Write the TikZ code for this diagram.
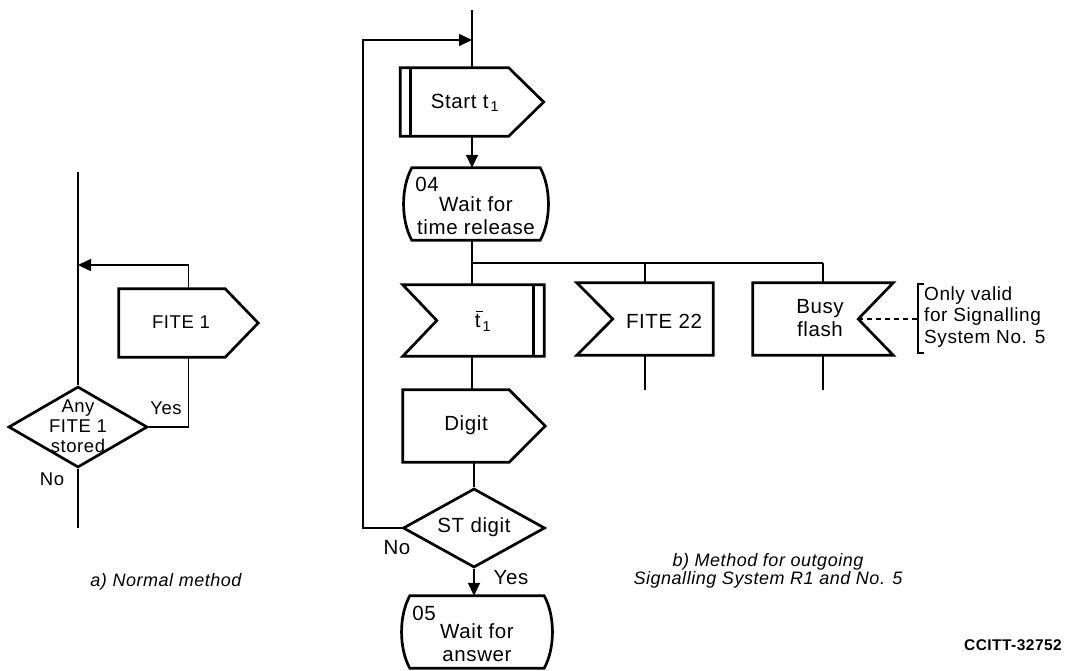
\documentclass[tikz,border=0pt]{standalone}
\usepackage{fontspec}
\setmainfont{Liberation Sans}[LetterSpace=3]
\usetikzlibrary{arrows.meta,shapes.geometric}
\newcommand{\tbarsym}{\makebox[0pt][l]{\hspace{1.5pt}\raisebox{15.5pt}{\rule{6.5pt}{1.4pt}}}t}
\begin{document}
\begin{tikzpicture}[x=1pt,y=-1pt,
  outl/.style={line width=2.7pt, line join=miter},
  conn/.style={line width=1.6pt},
  arr/.style={conn,-{Triangle[length=13pt,width=12pt]}},
  shp/.style={rectangle, draw=none, inner sep=0pt},
  rt/.style={font=\fontsize{20.5}{23}\selectfont, align=center, inner sep=0pt},
  lt/.style={font=\fontsize{18.5}{20}\selectfont, align=center, inner sep=0pt},
  nt/.style={font=\fontsize{19}{21.5}\selectfont, align=left, inner sep=0pt},
  captxt/.style={font=\fontsize{18}{17.5}\selectfont\itshape, align=center, inner sep=0pt},
]
\useasboundingbox (0,0) rectangle (1067,670);

% ---------------- a) Normal method ----------------
\coordinate (Ltop) at (78,172);
\coordinate (Lbot) at (78,528);
\coordinate (Ljoin) at (78,265);
\node[diamond, draw, outl, inner sep=0pt, minimum width=139pt, minimum height=81pt] (any) at (78,427) {};
\node[lt] (anyt) at (78,426) {Any\\FITE 1\\stored};
\node[shp, minimum width=139pt, minimum height=68pt] (fite1) at (188.5,323) {};
\node[lt] (fite1t) at (181,322) {FITE 1};
\draw[outl] (fite1.north west) -- ([xshift=-33pt]fite1.north east) -- (fite1.east)
  -- ([xshift=-33pt]fite1.south east) -- (fite1.south west) -- cycle;
\draw[conn] (Ltop) -- (any.north);
\draw[conn] (any.south) -- (Lbot);
\draw[arr] (fite1.north) -- (fite1.north |- Ljoin) -- (Ljoin);
\draw[conn] (any.east) -| (fite1.south);
\node[lt] (yesL) at (166,408) {Yes};
\node[lt] (noL) at (52,479) {No};
\node[captxt] (capa) at (166,582) {a) Normal method};

% ---------------- b) ----------------
\coordinate (Rtop) at (472,10);
\coordinate (Rmerge) at (472,40);
\coordinate (loopL) at (363,40);
\node[shp, minimum width=143pt, minimum height=68pt] (start) at (472,102) {};
\draw[outl] (start.north west) -- ([xshift=-35pt]start.north east) -- (start.east)
  -- ([xshift=-35pt]start.south east) -- (start.south west) -- cycle;
\draw[outl] ([xshift=10pt]start.north west) -- ([xshift=10pt]start.south west);
\node[rt] (startt) at (465,103) {Start t\kern2pt\textsubscript{1}};

\node[shp, minimum width=128pt, minimum height=72pt] (w04) at (476,204) {};
\draw[outl] (w04.north) -- (w04.north east) .. controls +(11,20) and +(11,-20) .. (w04.south east)
  -- (w04.south west) .. controls +(-11,-20) and +(-11,20) .. (w04.north west) -- cycle;
\node[rt] (w04n) at (427,184) {04};
\node[rt] (w04t) at (476,216) {Wait for\\time release};

\coordinate (br) at (472,263);
\coordinate (brR) at (823,263);

\node[shp, minimum width=141pt, minimum height=71pt] (tbar) at (473.5,320.5) {};
\draw[outl] (tbar.north west) -- (tbar.north east) -- (tbar.south east) -- (tbar.south west)
  -- ([xshift=34pt]tbar.west) -- cycle;
\draw[outl] ([xshift=-11pt]tbar.north east) -- ([xshift=-11pt]tbar.south east);
\node[rt] (tbart) at (483,321) {\tbarsym\kern2pt\textsubscript{1}};

\node[shp, minimum width=136pt, minimum height=72pt] (fite22) at (645,319) {};
\draw[outl] (fite22.north west) -- (fite22.north east) -- (fite22.south east) -- (fite22.south west)
  -- ([xshift=36pt]fite22.west) -- cycle;
\node[rt] (fite22t) at (664,321) {FITE 22};

\node[shp, minimum width=140pt, minimum height=72pt] (busy) at (823,319) {};
\draw[outl] (busy.north west) -- (busy.north east) -- ([xshift=-35pt]busy.east)
  -- (busy.south east) -- (busy.south west) -- cycle;
\node[rt] (busyt) at (820,318.5) {Busy\\flash};

\coordinate (f22b) at (645,390);
\coordinate (busyb) at (823,390);

\node[shp, minimum width=142pt, minimum height=72pt] (digit) at (474,426) {};
\draw[outl] (digit.north west) -- ([xshift=-36pt]digit.north east) -- (digit.east)
  -- ([xshift=-36pt]digit.south east) -- (digit.south west) -- cycle;
\node[rt] (digitt) at (466,425) {Digit};

\node[diamond, draw, outl, inner sep=0pt, minimum width=142pt, minimum height=79pt] (st) at (474,528) {};
\node[rt] (stt) at (474,527) {ST digit};

\node[shp, minimum width=134pt, minimum height=72pt] (w05) at (477,632) {};
\draw[outl] (w05.north) -- (w05.north east) .. controls +(11,20) and +(11,-20) .. (w05.south east)
  -- (w05.south west) .. controls +(-11,-20) and +(-11,20) .. (w05.north west) -- cycle;
\node[rt] (w05n) at (424,613) {05};
\node[rt] (w05t) at (477,642.5) {Wait for\\answer};

% connectors
\draw[conn] (Rtop) -- (start.north -| Rtop);
\draw[arr] (start.south -| Rtop) -- (Rtop |- w04.north);
\draw[conn] (w04.south -| br) -- (br) -- (brR);
\draw[conn] (br) -- (br |- tbar.north);
\draw[conn] (fite22.north |- br) -- (fite22.north);
\draw[conn] (brR) -- (busy.north);
\draw[conn] (fite22.south) -- (f22b);
\draw[conn] (busy.south) -- (busyb);
\draw[conn] (tbar.south -| br) -- (br |- digit.north);
\draw[conn] (digit.south -| st.north) -- (st.north);
\draw[arr] (st.south) -- (st.south |- w05.north);
\draw[arr] (st.west) -| (loopL) -- (Rmerge);
\node[rt] (noR) at (397,548) {No};
\node[rt] (yesR) at (511,578) {Yes};

% note
\coordinate (noteL) at (918,319);
\draw[conn, dash pattern=on 5pt off 4pt] ([xshift=-35pt]busy.east) -- (noteL);
\draw[conn] (924,284) -- (918,284) -- (918,353) -- (924,353);
\node[nt, anchor=west] (note) at (924,317) {Only valid\\for Signalling\\System No. 5};

\node[captxt] (capb) at (768,571) {b) Method for outgoing\\Signalling System R1 and No. 5};
\node[font=\fontsize{15.5}{16}\selectfont\bfseries, anchor=east, inner sep=0pt] (ccitt) at (1062,645) {CCITT-32752};
\end{tikzpicture}
\end{document}
